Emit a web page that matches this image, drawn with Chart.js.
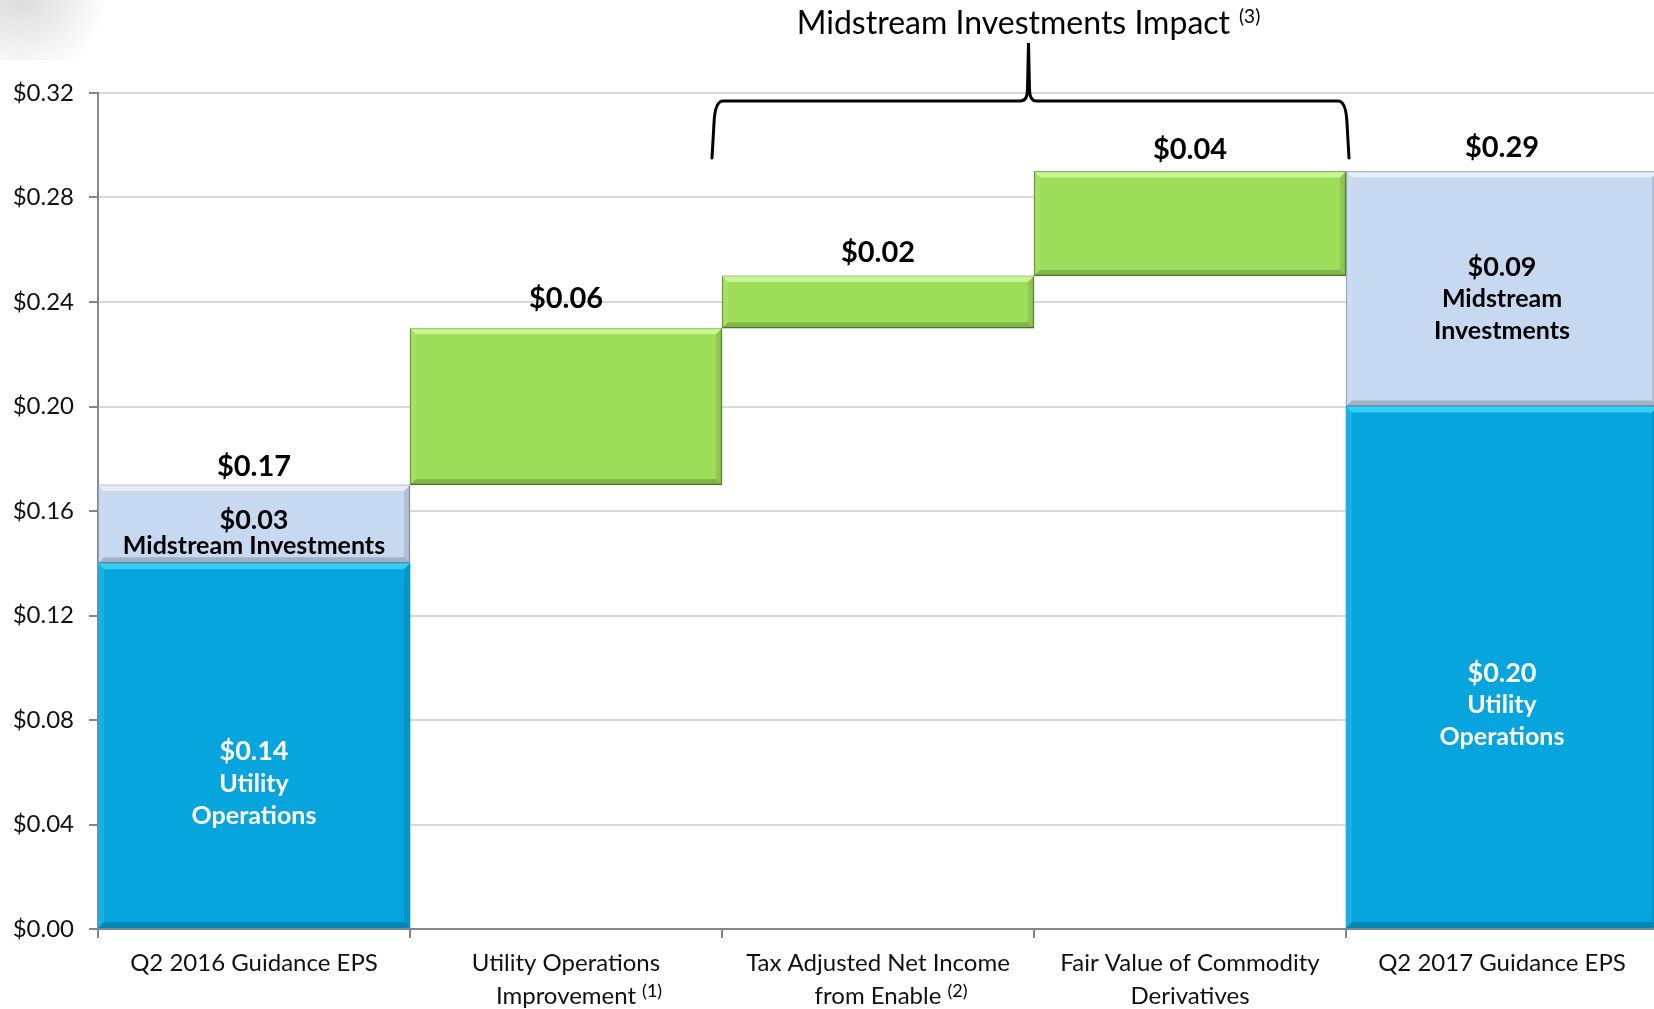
<!DOCTYPE html>
<html>
<head>
<meta charset="utf-8">
<title>Q2 EPS bridge</title>
<script src="https://cdn.jsdelivr.net/npm/chart.js@4.4.1/dist/chart.umd.min.js"></script>
<style>
  html, body { margin: 0; padding: 0; background: #fff; overflow: hidden; }
</style>
</head>
<body>
<canvas id="myChart" width="1658" height="1009"></canvas>
<script>
// Dades del gràfic
const categories = [
  ['Q2 2016 Guidance EPS'],
  ['Utility Operations', 'Improvement'],
  ['Tax Adjusted Net Income', 'from Enable'],
  ['Fair Value of Commodity', 'Derivatives'],
  ['Q2 2017 Guidance EPS']
];
const footnotes = [null, '(1)', '(2)', null, null];
const utilityOps = [0.14, null, null, null, 0.20];
const midstream = [0.03, null, null, null, 0.09];
const changes = [null, 0.06, 0.02, 0.04, null];
const yMin = 0;
const yMax = 0.32;
const yStep = 0.04;
const bracketTitle = 'Midstream Investments Impact';
const bracketNote = '(3)';

const money = (v) => '$' + v.toFixed(2);

// Construim les barres flotants (cascada) a partir de les dades
const blueData = [];
const lightData = [];
const greenData = [];
const totals = [];
let running = 0;
categories.forEach((c, i) => {
  if (utilityOps[i] != null) {
    const top = utilityOps[i] + midstream[i];
    blueData.push([0, utilityOps[i]]);
    lightData.push([utilityOps[i], top]);
    greenData.push(null);
    running = top;
    totals.push(top);
  } else {
    greenData.push([running, running + changes[i]]);
    running += changes[i];
    blueData.push(null);
    lightData.push(null);
    totals.push(changes[i]);
  }
});

const FONT = 'Lato, "Open Sans", sans-serif';
const labelLift = [18, 29, 23, 22, 24];
const TICK_LINE = 33;

// Efecte bisellat de les barres
const bevelPlugin = {
  id: 'bevel',
  afterDatasetsDraw(chart) {
    const ctx = chart.ctx;
    chart.data.datasets.forEach((ds, d) => {
      chart.getDatasetMeta(d).data.forEach((bar, i) => {
        if (ds.data[i] == null) return;
        const l = bar.x - bar.width / 2, r = bar.x + bar.width / 2;
        const t = Math.min(bar.y, bar.base), b = Math.max(bar.y, bar.base);
        const s = 6;
        const poly = (pts, fill) => {
          ctx.beginPath();
          ctx.moveTo(pts[0][0], pts[0][1]);
          pts.slice(1).forEach(p => ctx.lineTo(p[0], p[1]));
          ctx.closePath();
          ctx.fillStyle = fill;
          ctx.fill();
        };
        ctx.save();
        poly([[l, t], [r, t], [r - s, t + s], [l + s, t + s]], ds.bevelTop);
        poly([[l, t], [l + s, t + s], [l + s, b - s], [l, b]], 'rgba(255,255,255,0.10)');
        poly([[r, t], [r - s, t + s], [r - s, b - s], [r, b]], 'rgba(0,0,0,0.10)');
        poly([[l, b], [l + s, b - s], [r - s, b - s], [r, b]], 'rgba(0,0,0,0.18)');
        ctx.restore();
      });
    });
  }
};

// Etiquetes de valors, títol i clau
const labelsPlugin = {
  id: 'labels',
  beforeDraw(chart) {
    const ctx = chart.ctx;
    ctx.save();
    const g = ctx.createRadialGradient(20, -10, 5, 20, -10, 90);
    g.addColorStop(0, 'rgba(150,150,150,0.35)');
    g.addColorStop(1, 'rgba(150,150,150,0)');
    ctx.fillStyle = g;
    ctx.fillRect(0, 0, 130, 60);
    ctx.restore();
  },
  afterDraw(chart) {
    const ctx = chart.ctx;
    const xs = chart.scales.x;
    const area = chart.chartArea;
    const metaBlue = chart.getDatasetMeta(0);
    const metaLight = chart.getDatasetMeta(1);
    const metaGreen = chart.getDatasetMeta(2);
    ctx.save();
    ctx.textAlign = 'center';
    ctx.textBaseline = 'middle';

    // Totals damunt de cada barra
    categories.forEach((c, i) => {
      const bar = utilityOps[i] != null ? metaLight.data[i] : metaGreen.data[i];
      const top = Math.min(bar.y, bar.base);
      ctx.fillStyle = '#000';
      ctx.font = 'bold 29px ' + FONT;
      ctx.fillText(money(totals[i]), bar.x, top - labelLift[i]);
    });

    // Etiquetes dins les barres
    const inside = (bar, lines, start, gap, color) => {
      const mid = (bar.y + bar.base) / 2;
      ctx.fillStyle = color;
      lines.forEach((txt, k) => {
        ctx.font = (k === 0 ? 'bold 27px ' : 'bold 25px ') + FONT;
        ctx.fillText(txt, bar.x, mid + start + k * gap);
      });
    };
    inside(metaBlue.data[0], [money(utilityOps[0]), 'Utility', 'Operations'], 6, 32, '#fff');
    inside(metaBlue.data[4], [money(utilityOps[4]), 'Utility', 'Operations'], 6, 32, '#fff');
    inside(metaLight.data[0], [money(midstream[0]), 'Midstream Investments'], -4, 26, '#000');
    inside(metaLight.data[4], [money(midstream[4]), 'Midstream', 'Investments'], -22, 32, '#000');

    // Notes al peu de les categories
    ctx.textAlign = 'left';
    categories.forEach((lines, i) => {
      if (!footnotes[i]) return;
      ctx.font = '24px ' + FONT;
      const last = lines[lines.length - 1];
      const w = ctx.measureText(last).width;
      const cx = xs.getPixelForValue(i);
      const lineY = area.bottom + 9 + 9 + TICK_LINE / 2 + (lines.length - 1) * TICK_LINE;
      ctx.font = '18px ' + FONT;
      ctx.fillStyle = '#000';
      ctx.fillText(footnotes[i], cx + w / 2 + 6, lineY - 5);
    });

    // Clau sobre les barres de l'impacte (categories 2 i 3)
    const step = xs.getPixelForValue(1) - xs.getPixelForValue(0);
    const left = xs.getPixelForValue(2) - step / 2 - 10;
    const right = xs.getPixelForValue(3) + step / 2 + 3;
    const mid = (left + right) / 2 - 2;
    const yTop = area.top + 8;
    const yLeg = area.top + 65;
    const yStem = area.top - 50;
    ctx.strokeStyle = '#000';
    ctx.lineWidth = 3;
    ctx.lineCap = 'round';
    ctx.beginPath();
    ctx.moveTo(left, yLeg);
    ctx.lineTo(left + 2, yTop + 22);
    ctx.quadraticCurveTo(left + 3, yTop, left + 11, yTop);
    ctx.lineTo(mid - 8, yTop);
    ctx.quadraticCurveTo(mid - 1, yTop, mid - 1, yTop - 12);
    ctx.lineTo(mid, yStem);
    ctx.lineTo(mid + 1, yTop - 12);
    ctx.quadraticCurveTo(mid + 1, yTop, mid + 8, yTop);
    ctx.lineTo(right - 11, yTop);
    ctx.quadraticCurveTo(right - 3, yTop, right - 2, yTop + 22);
    ctx.lineTo(right, yLeg);
    ctx.stroke();

    // Títol de la clau
    ctx.textAlign = 'left';
    ctx.font = '32px ' + FONT;
    const tw = ctx.measureText(bracketTitle).width;
    ctx.font = '19px ' + FONT;
    const nw = ctx.measureText(bracketNote).width;
    const total = tw + 9 + nw;
    const x0 = mid - total / 2;
    ctx.fillStyle = '#000';
    ctx.font = '32px ' + FONT;
    ctx.fillText(bracketTitle, x0, 24);
    ctx.font = '19px ' + FONT;
    ctx.fillText(bracketNote, x0 + tw + 9, 17);
    ctx.restore();
  }
};

const ctx = document.getElementById('myChart').getContext('2d');
const chart = new Chart(ctx, {
  type: 'bar',
  data: {
    labels: categories,
    datasets: [
      {
        label: 'Utility Operations',
        data: blueData,
        backgroundColor: '#06a5dd',
        borderWidth: 0,
        bevelTop: 'rgba(70,220,255,0.75)'
      },
      {
        label: 'Midstream Investments',
        data: lightData,
        backgroundColor: '#c6d9f1',
        borderColor: '#8e9aae',
        borderWidth: 1.5,
        bevelTop: 'rgba(255,255,255,0.55)'
      },
      {
        label: 'Change',
        data: greenData,
        backgroundColor: '#9ddd5a',
        borderColor: '#5b8f2c',
        borderWidth: 1.5,
        bevelTop: 'rgba(220,255,170,0.7)'
      }
    ]
  },
  options: {
    responsive: false,
    animation: false,
    layout: { padding: { top: 93, left: 0, right: 0, bottom: 0 } },
    datasets: {
      bar: { grouped: false, barPercentage: 1, categoryPercentage: 1, borderSkipped: false }
    },
    plugins: {
      legend: { display: false },
      tooltip: { enabled: false }
    },
    scales: {
      x: {
        afterFit: (scale) => { scale.height = 80; },
        grid: { offset: true, drawOnChartArea: false, tickColor: '#868686', tickLength: 9, lineWidth: 2 },
        border: { color: '#868686', width: 2 },
        ticks: {
          color: '#111',
          padding: 9,
          maxRotation: 0,
          autoSkip: false,
          font: { family: FONT, size: 24, lineHeight: TICK_LINE / 24 }
        }
      },
      y: {
        min: yMin,
        max: yMax,
        afterFit: (scale) => { scale.width = 98; },
        grid: { color: '#d9d9d9', tickColor: '#868686', tickLength: 9, lineWidth: 2 },
        border: { color: '#868686', width: 2 },
        ticks: {
          stepSize: yStep,
          color: '#111',
          padding: 15,
          font: { family: FONT, size: 24 },
          callback: (v) => money(v)
        }
      }
    }
  },
  plugins: [bevelPlugin, labelsPlugin]
});
</script>
</body>
</html>
